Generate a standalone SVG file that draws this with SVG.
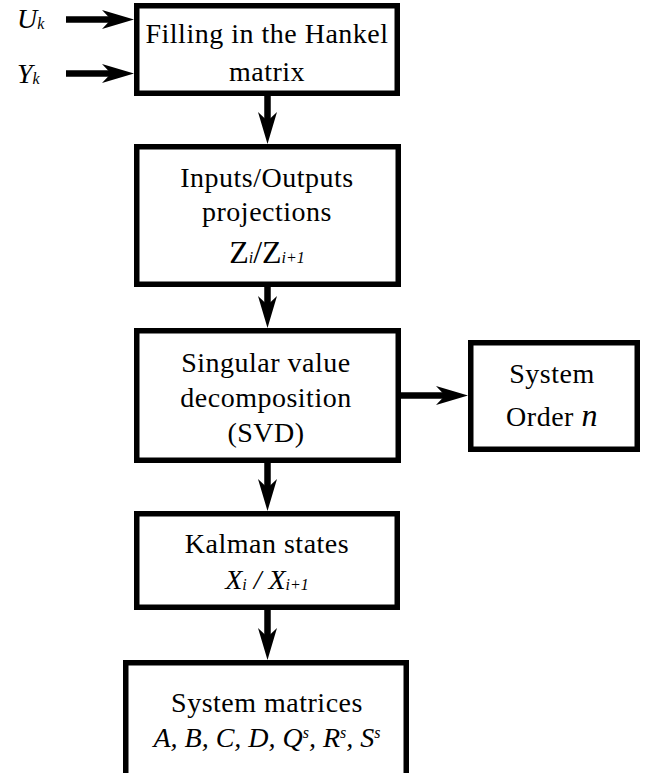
<svg xmlns="http://www.w3.org/2000/svg" width="662" height="773" viewBox="0 0 662 773">
  <style>
    .box { fill: #ffffff; stroke: #000000; stroke-width: 5.5; }
    .t { font-family: "Liberation Serif", "Times New Roman", serif; font-size: 28px; fill: #000000; text-anchor: middle; letter-spacing: 0.5px; }
    .it { font-style: italic; }
    .sub { font-size: 16px; font-style: italic; }
    .lbl { font-family: "Liberation Serif", "Times New Roman", serif; font-size: 28px; fill: #000000; font-style: italic; }
    .conn { stroke: #000000; stroke-width: 6.5; fill: none; marker-end: url(#head); }
  </style>
  <defs>
    <marker id="head" markerUnits="userSpaceOnUse" markerWidth="32" markerHeight="22" refX="12" refY="11" orient="auto">
      <path d="M0,1.5 L32,11 L0,20.5 L9,11 Z" fill="#000000"/>
    </marker>
  </defs>
  <rect width="662" height="773" fill="#ffffff"/>

  <g id="connectors">
    <line class="conn" x1="66" y1="19.5" x2="114" y2="19.5"/>
    <line class="conn" x1="66" y1="73.5" x2="114" y2="73.5"/>
    <line class="conn" x1="267.5" y1="96" x2="267.5" y2="124"/>
    <line class="conn" x1="267.5" y1="287" x2="267.5" y2="308"/>
    <line class="conn" x1="267.5" y1="463" x2="267.5" y2="491"/>
    <line class="conn" x1="267.5" y1="610" x2="267.5" y2="640"/>
    <line class="conn" x1="401" y1="395.5" x2="448" y2="395.5"/>
  </g>

  <g id="input-u">
    <text class="lbl" x="17" y="28">U<tspan class="sub" dy="1">k</tspan></text>
  </g>
  <g id="input-y">
    <text class="lbl" x="17" y="83">Y<tspan class="sub" dy="1">k</tspan></text>
  </g>

  <g id="hankel">
    <rect class="box" x="136.75" y="5.75" width="260.5" height="87.5"/>
    <text class="t" x="267" y="43">Filling in the Hankel</text>
    <text class="t" x="267" y="81">matrix</text>
  </g>

  <g id="projections">
    <rect class="box" x="136.75" y="146.75" width="261.5" height="137.5"/>
    <text class="t" x="267" y="187">Inputs/Outputs</text>
    <text class="t" x="267" y="221">projections</text>
    <text class="t" x="267" y="263" style="letter-spacing:0"><tspan font-size="32">Z</tspan><tspan class="sub" font-size="17">i</tspan><tspan font-size="32">/Z</tspan><tspan class="sub" font-size="17">i+1</tspan></text>
  </g>

  <g id="svd">
    <rect class="box" x="136.75" y="330.75" width="261.5" height="129.5"/>
    <text class="t" x="266" y="372">Singular value</text>
    <text class="t" x="266" y="407">decomposition</text>
    <text class="t" x="266" y="442">(SVD)</text>
  </g>

  <g id="order">
    <rect class="box" x="470.75" y="342.75" width="166.5" height="106.5"/>
    <text class="t" x="552" y="383">System</text>
    <text class="t" x="552" y="426">Order <tspan class="it" font-size="32">n</tspan></text>
  </g>

  <g id="kalman">
    <rect class="box" x="136.75" y="513.75" width="260.5" height="93.5"/>
    <text class="t" x="267" y="553">Kalman states</text>
    <text class="t it" x="267" y="589" style="letter-spacing:0">X<tspan class="sub" dy="1">i</tspan><tspan dy="-1"> / X</tspan><tspan class="sub" dy="1">i+1</tspan></text>
  </g>

  <g id="matrices">
    <rect class="box" x="125.75" y="662.75" width="280.5" height="116"/>
    <text class="t" x="267" y="712">System matrices</text>
    <text class="t it" x="267" y="747" style="letter-spacing:0">A, B, C, D, Q<tspan class="sub" dy="-9">s</tspan><tspan dy="9">, R</tspan><tspan class="sub" dy="-9">s</tspan><tspan dy="9">, S</tspan><tspan class="sub" dy="-9">s</tspan></text>
  </g>
</svg>
